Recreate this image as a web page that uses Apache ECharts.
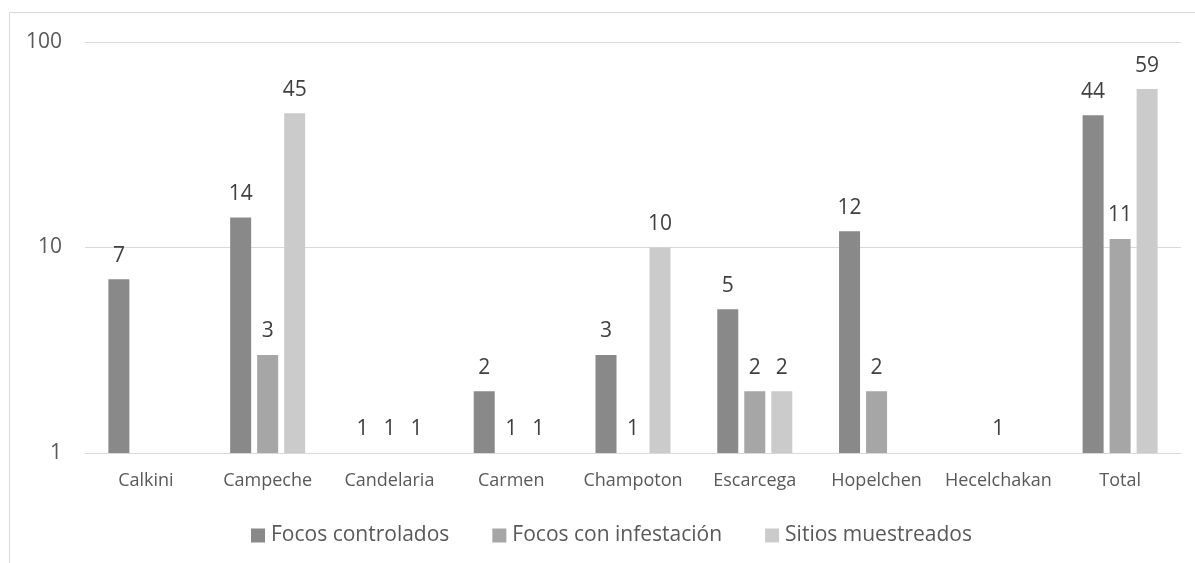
<!DOCTYPE html>
<html>
<head>
<meta charset="utf-8">
<script src="https://cdn.jsdelivr.net/npm/echarts@6/dist/echarts.min.js"></script>
<style>
html,body{margin:0;padding:0;background:#fff;}
#chart{width:1195px;height:563px;}
</style>
</head>
<body>
<div id="chart"></div>
<script>
var categories = ['Calkini','Campeche','Candelaria','Carmen','Champoton','Escarcega','Hopelchen','Hecelchakan','Total'];
var seriesNames = ['Focos controlados','Focos con infestación','Sitios muestreados'];
var focosControlados = [7, 14, 1, 2, 3, 5, 12, null, 44];
var focosInfestacion = [null, 3, 1, 1, 1, 2, 2, 1, 11];
var sitiosMuestreados = [null, 45, 1, 1, 10, 2, null, null, 59];
var yTicks = [1, 10, 100];
var colors = ['#898989', '#a6a6a6', '#cbcbcb'];
var FONT = 'Open Sans';

var chart = echarts.init(document.getElementById('chart'), null, {renderer:'canvas'});
function mk(name, data, color){
  return {
    name: name, type: 'bar', data: data,
    barWidth: 21, barGap: '28.6%',
    itemStyle: {color: color},
    label: {show: true, position: 'top', distance: 13, color: '#404040',
      fontFamily: FONT, fontSize: 21},
    emphasis: {disabled: true}
  };
}
chart.setOption({
  animation: false,
  backgroundColor: '#fff',
  graphic: [{type:'rect', shape:{x:9.5, y:12.5, width:1200, height:600},
    style:{fill:'none', stroke:'#d9d9d9', lineWidth:1}, silent:true}],
  grid: {left: 85, right: 14, top: 42, bottom: 110},
  legend: {
    left: 251, top: 525, padding: 0, itemWidth: 14, itemHeight: 14, itemGap: 43,
    icon: 'rect',
    textStyle: {color: '#595959', fontFamily: FONT, fontSize: 21, padding:[0,0,0,1]},
    data: seriesNames
  },
  xAxis: {
    type: 'category', data: categories,
    axisLine: {lineStyle: {color: '#d9d9d9', width: 1}},
    axisTick: {show: false},
    axisLabel: {color: '#595959', fontFamily: FONT, fontSize: 18, margin: 19, interval: 0}
  },
  yAxis: {
    type: 'log', logBase: 10, min: yTicks[0], max: yTicks[yTicks.length-1], interval: 1,
    axisLine: {show: false}, axisTick: {show: false},
    splitLine: {lineStyle: {color: '#d9d9d9', width: 1}},
    axisLabel: {color: '#595959', fontFamily: FONT, fontSize: 21, margin: 23}
  },
  series: [
    mk(seriesNames[0], focosControlados, colors[0]),
    mk(seriesNames[1], focosInfestacion, colors[1]),
    mk(seriesNames[2], sitiosMuestreados, colors[2])
  ]
});
</script>
</body>
</html>
